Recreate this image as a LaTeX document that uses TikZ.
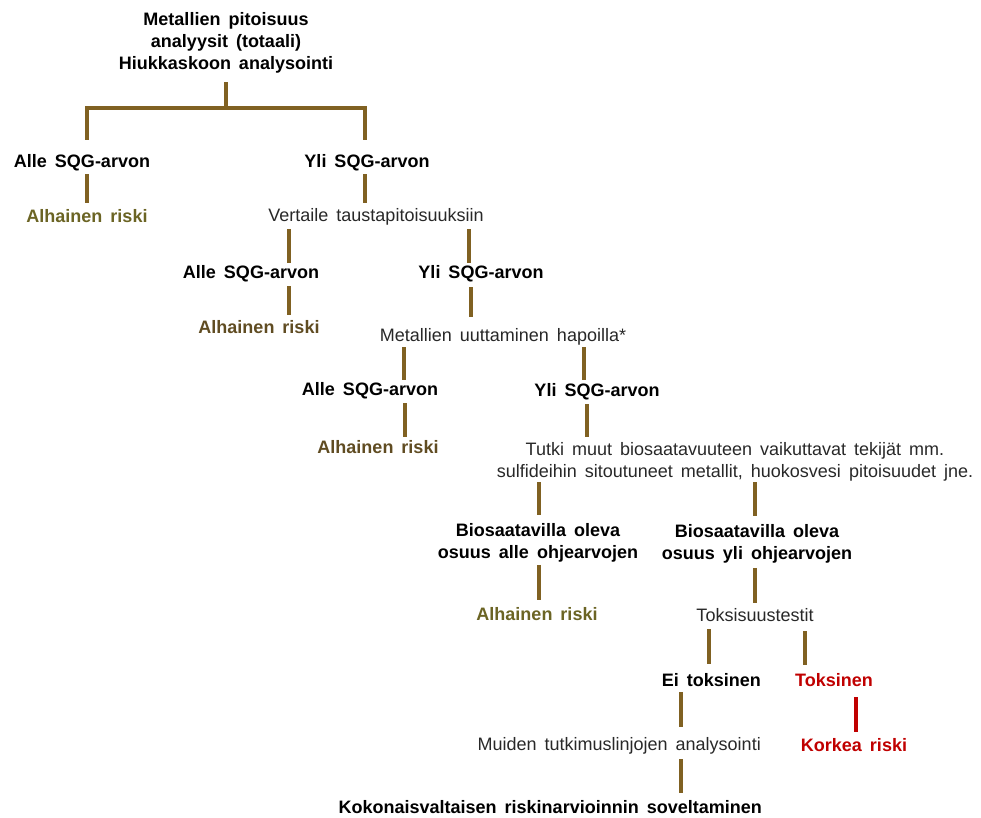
\documentclass[tikz,border=0pt]{standalone}
\usepackage{fontspec}
\setmainfont[WordSpace=1.6]{Liberation Sans}
\definecolor{linebrown}{RGB}{128,97,34}
\definecolor{lowolive}{RGB}{107,100,36}
\definecolor{lowbrown}{RGB}{96,76,34}
\definecolor{riskred}{RGB}{192,0,0}
\definecolor{textgray}{RGB}{40,40,40}
\begin{document}
\begin{tikzpicture}[x=1pt,y=-1pt,
  every node/.style={inner sep=0pt, align=center, font=\fontsize{18}{22}\selectfont},
  one/.style={text height=13pt, text depth=1pt},
  choice/.style={font=\fontsize{18}{22}\selectfont\bfseries},
  plain/.style={text=textgray},
  low/.style={one, choice, text=lowolive},
  link/.style={draw=linebrown, line width=3.8pt},
  gap/.style 2 args={shorten <=#1, shorten >=#2}]
  \useasboundingbox (0,0) rectangle (981,817);
  % first level
  \node[choice] (root) at (226,43) {Metallien pitoisuus\\analyysit (totaali)\\Hiukkaskoon analysointi};
  \coordinate (fork) at (226,108);
  \node[one, choice] (alle1) at (82,161) {Alle SQG-arvon};
  \node[one, choice] (yli1) at (367,161) {Yli SQG-arvon};
  \node[low] (low1) at (87,216) {Alhainen riski};
  \node[one, plain] (vert) at (376,215) {Vertaile taustapitoisuuksiin};
  % background values
  \node[one, choice] (alle2) at (251,272) {Alle SQG-arvon};
  \node[one, choice] (yli2) at (481,272) {Yli SQG-arvon};
  \node[low, text=lowbrown] (low2) at (259,327) {Alhainen riski};
  \node[one, plain] (acid) at (503,335) {Metallien uuttaminen hapoilla*};
  % acid extraction
  \node[one, choice] (alle3) at (370,389) {Alle SQG-arvon};
  \node[one, choice] (yli3) at (597,390) {Yli SQG-arvon};
  \node[low, text=lowbrown] (low3) at (378,447) {Alhainen riski};
  \node[plain] (other) at (735,462) {Tutki muut biosaatavuuteen vaikuttavat tekijät mm.\\sulfideihin sitoutuneet metallit, huokosvesi pitoisuudet jne.};
  % bioavailability
  \node[choice] (bioalle) at (538,543) {Biosaatavilla oleva\\osuus alle ohjearvojen};
  \node[choice] (bioyli) at (757,544) {Biosaatavilla oleva\\osuus yli ohjearvojen};
  \node[low] (low4) at (537,614) {Alhainen riski};
  \node[one, plain] (tox) at (755,615) {Toksisuustestit};
  % toxicity
  \node[one, choice, anchor=east] (nontox) at (761,680) {Ei toksinen};
  \node[one, choice, text=riskred] (toxic) at (834,680) {Toksinen};
  \node[one, plain, anchor=east] (further) at (761,744) {Muiden tutkimuslinjojen analysointi};
  \node[one, choice, text=riskred] (high) at (854,745) {Korkea riski};
  \node[one, choice, anchor=east] (total) at (762,807) {Kokonaisvaltaisen riskinarvioinnin soveltaminen};
  % connectors
  \draw[link, gap={8.7pt}{0pt}] (root.south) -- (fork);
  \draw[link, gap={14pt}{14pt}] (alle1.north -| 87,0) |- (fork) -| (yli1.north -| 365,0);
  \draw[link, gap={6pt}{6pt}] (alle1.south -| 87,0) -- (low1.north -| 87,0);
  \draw[link, gap={6pt}{5pt}] (yli1.south -| 365,0) -- (vert.north -| 365,0);
  \draw[link, gap={7pt}{2pt}] (vert.south -| 289,0) -- (alle2.north -| 289,0);
  \draw[link, gap={7pt}{2pt}] (vert.south -| 469,0) -- (yli2.north -| 469,0);
  \draw[link, gap={7pt}{5pt}] (alle2.south -| 289,0) -- (low2.north -| 289,0);
  \draw[link, gap={8pt}{11pt}] (yli2.south -| 471,0) -- (acid.north -| 471,0);
  \draw[link, gap={5pt}{2pt}] (acid.south -| 404,0) -- (alle3.north -| 404,0);
  \draw[link, gap={5pt}{3pt}] (acid.south -| 584,0) -- (yli3.north -| 584,0);
  \draw[link, gap={7pt}{3pt}] (alle3.south -| 405,0) -- (low3.north -| 405,0);
  \draw[link, gap={7pt}{5.5pt}] (yli3.south -| 587,0) -- (other.north -| 587,0);
  \draw[link, gap={0.7pt}{8pt}] (other.south -| 539,0) -- (bioalle.north -| 539,0);
  \draw[link, gap={0.7pt}{8pt}] (other.south -| 755,0) -- (bioyli.north -| 755,0);
  \draw[link, gap={2.2pt}{7pt}] (bioalle.south -| 539,0) -- (low4.north -| 539,0);
  \draw[link, gap={4.2pt}{5pt}] (bioyli.south -| 755,0) -- (tox.north -| 755,0);
  \draw[link, gap={7pt}{9pt}] (tox.south -| 709,0) -- (nontox.north -| 709,0);
  \draw[link, gap={9pt}{8pt}] (tox.south -| 805,0) -- (toxic.north -| 805,0);
  \draw[link, gap={5pt}{10pt}] (nontox.south -| 681,0) -- (further.north -| 681,0);
  \draw[link, draw=riskred, gap={10pt}{6pt}] (toxic.south -| 856,0) -- (high.north -| 856,0);
  \draw[link, gap={8pt}{7pt}] (further.south -| 681,0) -- (total.north -| 681,0);
\end{tikzpicture}
\end{document}
